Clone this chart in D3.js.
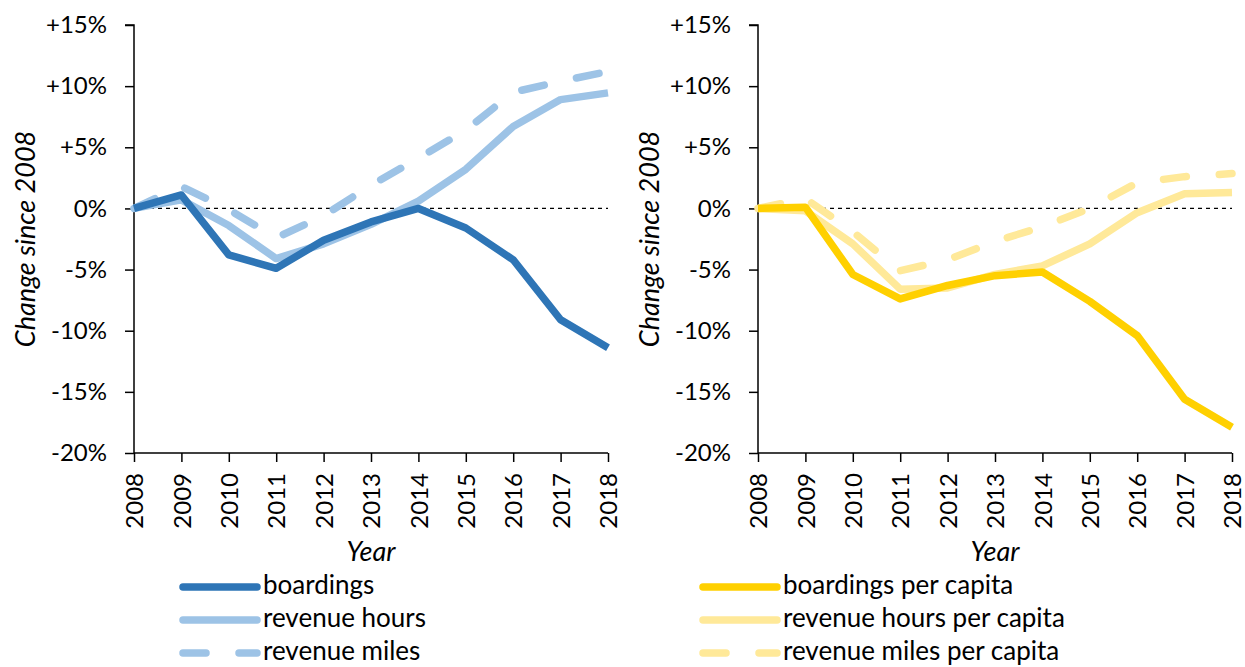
<!DOCTYPE html>
<html>
<head>
<meta charset="utf-8">
<script src="https://cdn.jsdelivr.net/npm/d3@7"></script>
<style>
  body { margin: 0; background: #fff; }
  svg { display: block; font-family: Lato, "Open Sans", sans-serif; }
</style>
</head>
<body>
<svg id="chart" width="1245" height="667"></svg>
<script>
// data (percent change since 2008)
const years = [2008, 2009, 2010, 2011, 2012, 2013, 2014, 2015, 2016, 2017, 2018];
const yTicks = [15, 10, 5, 0, -5, -10, -15, -20];

const boardings = [0, 1.1, -3.8, -4.9, -2.6, -1.1, 0, -1.6, -4.2, -9.1, -11.4];
const revenueHours = [0, 0.7, -1.4, -4.1, -2.9, -1.3, 0.6, 3.2, 6.7, 8.9, 9.45];
const revenueMiles = [0, 1.8, -0.1, -2.4, -0.6, 1.9, 4.1, 6.4, 9.5, 10.4, 11.2];

const boardingsPerCapita = [0, 0.1, -5.4, -7.4, -6.3, -5.5, -5.2, -7.6, -10.4, -15.6, -17.9];
const revenueHoursPerCapita = [0, -0.2, -2.9, -6.6, -6.5, -5.4, -4.7, -2.9, -0.35, 1.2, 1.3];
const revenueMilesPerCapita = [0, 0.8, -1.9, -5.1, -4.2, -2.7, -1.5, 0, 2.1, 2.6, 2.85];

const svg = d3.select("#chart");
const lineWidth = 7.5;
const dash = "23,33";
const font = "Lato, 'Open Sans', sans-serif";

function panel({ left, right, series, legendX }) {
  const g = svg.append("g");
  const x = d3.scaleLinear().domain([2008, 2018]).range([left, right]);
  const y = d3.scaleLinear().domain([-20, 15]).range([453, 25]);

  // zero reference line
  g.append("line")
    .attr("x1", x(2008)).attr("x2", x(2018))
    .attr("y1", y(0)).attr("y2", y(0))
    .attr("stroke", "#000").attr("stroke-width", 1.2)
    .attr("stroke-dasharray", "4,4");

  // y axis
  const yAxis = g.append("g")
    .attr("transform", `translate(${left} 0)`)
    .call(d3.axisLeft(y).tickValues(yTicks).tickSize(9).tickPadding(18)
      .tickFormat((d) => (d > 0 ? "+" : "") + d + "%"));

  // x axis
  const xAxis = g.append("g")
    .attr("transform", `translate(0 ${y(-20)})`)
    .call(d3.axisBottom(x).tickValues(years).tickSize(9).tickFormat(d3.format("d")));
  xAxis.selectAll("text")
    .attr("transform", "rotate(-90)")
    .attr("text-anchor", "end")
    .attr("x", -20).attr("y", 0).attr("dy", "0.36em");

  [yAxis, xAxis].forEach((a) => {
    a.attr("font-family", font).attr("font-size", 24);
    a.selectAll("text").attr("fill", "#000");
    a.selectAll("path, line").attr("stroke", "#000").attr("stroke-width", 1.5);
    a.select(".domain").attr("d", a === yAxis
      ? `M${-9},${y(15)}H0V${y(-20)}`
      : `M${left},0H${right}`);
  });

  // axis titles
  g.append("text")
    .attr("transform", `translate(${left - 99} ${(y(15) + y(-20)) / 2}) rotate(-90)`)
    .attr("text-anchor", "middle")
    .attr("font-style", "italic").attr("font-size", 27)
    .text("Change since 2008");
  g.append("text")
    .attr("x", (left + right) / 2).attr("y", 561)
    .attr("text-anchor", "middle")
    .attr("font-style", "italic").attr("font-size", 27)
    .text("Year");

  // lines, drawn back to front
  const line = d3.line().x((d, i) => x(years[i])).y((d) => y(d));
  series.slice().reverse().forEach((s) => {
    g.append("path")
      .datum(s.values)
      .attr("fill", "none")
      .attr("stroke", s.color)
      .attr("stroke-width", lineWidth)
      .attr("stroke-linejoin", "round")
      .attr("stroke-linecap", s.dashed ? "round" : "butt")
      .attr("stroke-dasharray", s.dashed ? dash : null)
      .attr("d", line);
  });

  // legend
  const rows = g.append("g").selectAll("g")
    .data(series)
    .join("g")
    .attr("transform", (d, i) => `translate(${legendX} ${587 + i * 33})`);
  rows.append("line")
    .attr("x1", 0).attr("x2", 74)
    .attr("stroke", (d) => d.color)
    .attr("stroke-width", lineWidth)
    .attr("stroke-linecap", "round")
    .attr("stroke-dasharray", (d) => (d.dashed ? dash : null));
  rows.append("text")
    .attr("x", 80).attr("y", 7)
    .attr("font-size", 26)
    .text((d) => d.name);
}

panel({
  left: 134, right: 608, legendX: 183,
  series: [
    { name: "boardings", values: boardings, color: "#2E75B6" },
    { name: "revenue hours", values: revenueHours, color: "#9DC3E6" },
    { name: "revenue miles", values: revenueMiles, color: "#9DC3E6", dashed: true },
  ],
});

panel({
  left: 758, right: 1232, legendX: 703,
  series: [
    { name: "boardings per capita", values: boardingsPerCapita, color: "#FFD000" },
    { name: "revenue hours per capita", values: revenueHoursPerCapita, color: "#FFE999" },
    { name: "revenue miles per capita", values: revenueMilesPerCapita, color: "#FFE999", dashed: true },
  ],
});
</script>
</body>
</html>
